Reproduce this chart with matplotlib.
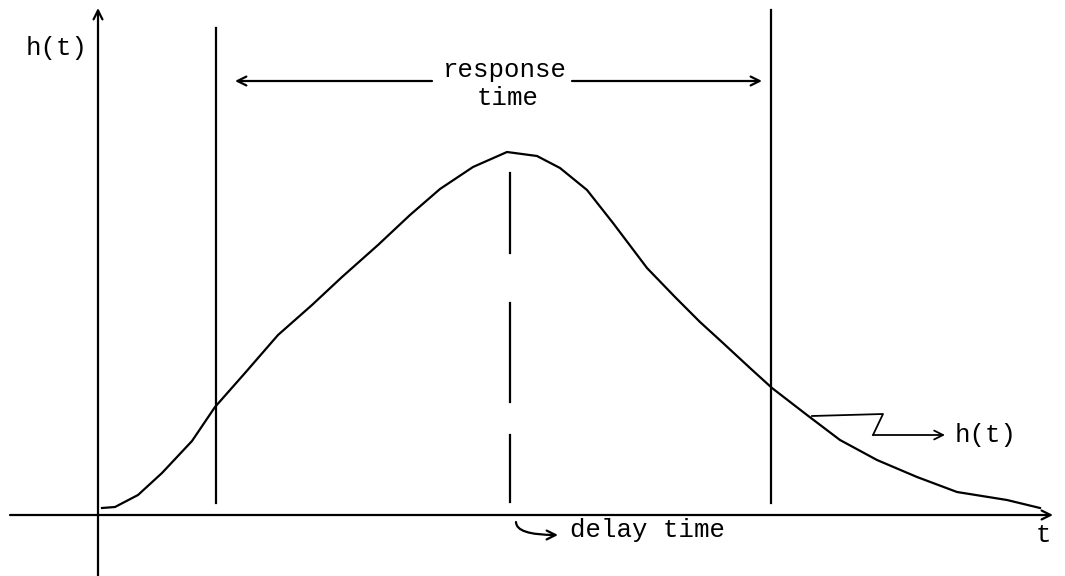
import matplotlib.pyplot as plt

# curve h(t), in chart units (origin where the axes cross)
curve_t = [4, 17, 40, 64, 94, 117, 147, 180, 214, 244, 280, 312, 342, 375,
           409, 439, 462, 489, 515, 549, 577, 602, 625, 652, 674, 709, 742,
           779, 819, 859, 909, 942]
curve_h = [7, 8, 20, 42, 74, 108, 142, 180, 210, 238, 270, 300, 326, 348,
           363, 359, 347, 325, 292, 247, 218, 193, 172, 147, 127, 100, 75,
           55, 38, 23, 15, 7]

response_start = 118
response_end = 673
delay_t = 412
delay_segments = [(262, 342), (113, 212), (13, 80)]

font = 'Liberation Mono'
fs = 18.5
lw = 1.6

fig = plt.figure(figsize=(10.65, 5.76), dpi=100)
ax = fig.add_axes([0, 0, 1, 1])
ax.set_xlim(-98, 967)
ax.set_ylim(-61, 515)
ax.axis('off')

arrow = dict(arrowstyle='->', lw=lw, color='black', mutation_scale=16,
             shrinkA=0, shrinkB=0)

# axes
ax.annotate('', xy=(0, 507), xytext=(0, -61), arrowprops=arrow)
ax.annotate('', xy=(955, 0), xytext=(-88, 0), arrowprops=arrow)
ax.text(-72, 467, 'h(t)', family=font, fontsize=fs, va='center', ha='left')
ax.text(945, -20, 't', family=font, fontsize=fs, va='center', ha='center')

# curve
ax.plot(curve_t, curve_h, color='black', lw=lw, solid_joinstyle='round')

# response time window
ax.plot([response_start, response_start], [12, 487], color='black', lw=lw)
ax.plot([response_end, response_end], [12, 505], color='black', lw=lw)
ax.annotate('', xy=(response_start + 19, 434), xytext=(334, 434), arrowprops=arrow)
ax.annotate('', xy=(response_end - 9, 434), xytext=(474, 434), arrowprops=arrow)
ax.text(407, 445, 'response', family=font, fontsize=fs, va='center', ha='center')
ax.text(410, 417, 'time', family=font, fontsize=fs, va='center', ha='center')

# delay time
for lo, hi in delay_segments:
    ax.plot([delay_t, delay_t], [lo, hi], color='black', lw=lw)
ax.annotate('', xy=(460, -20), xytext=(418, -7),
            arrowprops=dict(arrow, connectionstyle='angle3,angleA=90,angleB=0'))
ax.text(472, -15, 'delay time', family=font, fontsize=fs, va='center', ha='left')

# pointer to the curve
ax.plot([714, 785, 775], [99, 101, 80], color='black', lw=lw * 0.8)
ax.annotate('', xy=(847, 80), xytext=(775, 80), arrowprops=dict(arrow, lw=lw * 0.8))
ax.text(857, 80, 'h(t)', family=font, fontsize=fs, va='center', ha='left')

fig.savefig('out.png', dpi=100, facecolor='white')
